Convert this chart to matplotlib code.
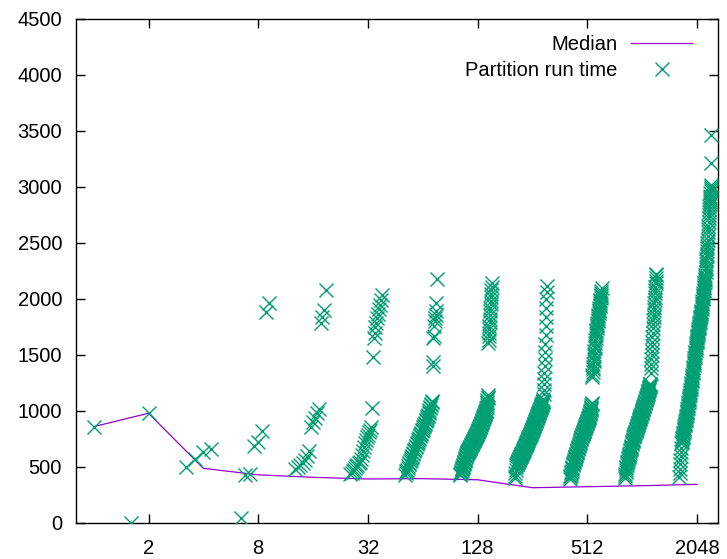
import matplotlib
matplotlib.use("Agg")
import matplotlib.pyplot as plt
from matplotlib.ticker import FixedLocator, FixedFormatter, NullLocator

plt.rcParams['font.family'] = ['Liberation Sans', 'DejaVu Sans']

# ---------------- data ----------------
partitions = [1, 2, 4, 8, 16, 32, 64, 128, 256, 512, 1024, 2048]
median_ms = [860, 980, 488, 430, 408, 393, 396, 386, 315, 324, 333, 345]

run_1 = [860]
run_2 = [0, 982]
run_4 = [500, 571, 634, 661]
run_8 = [42, 425, 440, 688, 723, 824, 1887, 1967]
run_16 = [480, 500, 520, 540, 565, 600, 640, 860, 900, 940, 985, 1020,
          1790, 1840, 1900, 2080]
run_32 = [440, 450, 462, 475, 490, 505, 518, 532, 545, 570, 607, 640, 679,
          710, 741, 765, 786, 810, 830, 857, 1027,
          1480, 1650, 1700, 1750, 1790, 1830, 1870, 1910, 1950, 1990, 2040]
run_64 = [428, 444, 461, 477, 494, 510, 527, 540, 552, 565,
          577, 589, 602, 614, 627, 639, 651, 664, 676, 688,
          701, 713, 726, 738, 750, 763, 775, 786, 797, 808,
          819, 831, 842, 853, 864, 875, 886, 897, 908, 920,
          931, 942, 954, 968, 982, 995, 1009, 1023, 1037, 1051,
          1064, 1078, 1092,
          1400, 1440, 1650, 1670, 1760, 1800, 1830, 1860, 1890, 1960, 2180]
run_128 = [428, 436, 445, 453, 462, 470, 479, 487, 495, 504,
           512, 521, 529, 537, 546, 554, 563, 571, 580, 588,
           596, 605, 613, 622, 627, 631, 636, 641, 645, 650,
           655, 659, 664, 669, 673, 678, 682, 687, 692, 696,
           701, 706, 710, 715, 720, 724, 729, 733, 738, 743,
           747, 752, 757, 761, 766, 771, 775, 780, 784, 789,
           794, 798, 803, 808, 812, 817, 822, 826, 831, 836,
           842, 847, 853, 859, 864, 870, 875, 881, 887, 892,
           898, 903, 909, 915, 920, 926, 931, 937, 943, 948,
           954, 959, 965, 971, 976, 982, 987, 993, 999, 1004,
           1011, 1026, 1040, 1054, 1069, 1083, 1098, 1112, 1126, 1141,
           1603, 1635, 1667, 1698, 1730, 1762, 1794, 1825, 1857, 1889,
           1921, 1952, 1984, 2016, 2048, 2079, 2111, 2143]
run_256 = [400, 424, 448, 472, 496, 520, 525, 531, 536, 542,
           547, 553, 558, 564, 569, 575, 580, 586, 591, 596,
           602, 607, 613, 618, 624, 629, 635, 640, 646, 651,
           656, 662, 667, 673, 678, 684, 689, 695, 700, 706,
           711, 717, 722, 727, 733, 738, 744, 749, 755, 760,
           766, 771, 777, 782, 788, 793, 798, 804, 809, 815,
           820, 826, 831, 837, 842, 848, 853, 858, 864, 869,
           875, 880, 886, 891, 897, 902, 908, 913, 919, 924,
           929, 935, 940, 946, 951, 957, 962, 968, 973, 979,
           984, 990, 995, 1000, 1006, 1011, 1017, 1022, 1028, 1033,
           1039, 1044, 1050, 1055, 1061, 1066, 1071, 1077, 1082, 1088,
           1093,
           1110, 1150, 1190, 1240, 1290, 1340, 1400, 1460, 1530, 1600,
           1680, 1760, 1840, 1920, 2000, 2060, 2120]
run_512 = [397, 409, 421, 432, 444, 456, 468, 480, 491, 503,
           515, 527, 537, 545, 553, 561, 569, 577, 585, 593,
           601, 609, 617, 625, 634, 642, 650, 658, 666, 674,
           682, 690, 698, 706, 714, 722, 730, 738, 747, 755,
           763, 771, 777, 783, 789, 795, 801, 807, 813, 819,
           825, 831, 838, 844, 850, 856, 862, 868, 874, 880,
           886, 892, 898, 904, 910, 916, 922, 928, 934, 940,
           946, 955, 964, 974, 983, 993, 1002, 1012, 1021, 1031,
           1040, 1050, 1059, 1069,
           1300, 1324, 1347, 1371, 1395, 1418,
           1442, 1465, 1489, 1513, 1536, 1560, 1583, 1607, 1631, 1654,
           1678, 1697, 1712, 1727, 1742, 1757, 1771, 1786, 1801, 1816,
           1831, 1846, 1860, 1875, 1890, 1905, 1920, 1935, 1949, 1964,
           1979, 1994, 2009, 2024, 2038, 2053, 2068, 2098]
run_1024 = [400, 417, 435, 452, 469, 487, 504, 521, 536, 547,
            557, 567, 578, 588, 598, 609, 619, 629, 640, 650,
            660, 671, 681, 691, 702, 712, 722, 733, 743, 753,
            764, 773, 780, 787, 794, 801, 808, 814, 821, 828,
            835, 842, 849, 856, 863, 870, 876, 883, 890, 897,
            904, 911, 918, 925, 932, 938, 945, 952, 959, 966,
            973, 980, 987, 994, 1000, 1007, 1014, 1021, 1028, 1035,
            1042, 1049, 1056, 1063, 1070, 1077, 1084, 1091, 1098, 1105,
            1112, 1119, 1126, 1133, 1140, 1147, 1154, 1161, 1168, 1175,
            1182, 1189, 1196, 1203, 1210, 1217, 1224, 1231, 1238, 1245,
            1339, 1380, 1420, 1460, 1500, 1540, 1580, 1620, 1660, 1700,
            1740, 1780, 1810, 1840, 1870, 1900, 1930, 1960, 1990, 2020,
            2050, 2080, 2110, 2140, 2165, 2190, 2210, 2225]
run_2048 = [411, 449, 486, 524, 561, 599, 636, 674, 711, 723,
            734, 746, 758, 769, 781, 793, 804, 816, 828, 839,
            851, 863, 874, 886, 897, 909, 921, 932, 944, 956,
            967, 979, 990, 1002, 1014, 1028, 1041, 1054, 1067, 1081,
            1094, 1107, 1120, 1134, 1147, 1160, 1173, 1187, 1200, 1213,
            1226, 1240, 1253, 1266, 1279, 1293, 1306, 1321, 1336, 1351,
            1366, 1380, 1395, 1410, 1425, 1440, 1455, 1470, 1485, 1500,
            1515, 1530, 1544, 1559, 1574, 1589, 1604, 1615, 1626, 1638,
            1649, 1660, 1672, 1683, 1694, 1706, 1717, 1728, 1739, 1751,
            1762, 1773, 1785, 1796, 1807, 1818, 1830, 1841, 1852, 1864,
            1875, 1886, 1897, 1911, 1925, 1939, 1954, 1968, 1982, 1996,
            2011, 2025, 2039, 2054, 2068, 2082, 2096, 2111, 2125, 2139,
            2154, 2168, 2182, 2196, 2218, 2241, 2265, 2288, 2312, 2335,
            2359, 2382, 2406, 2429, 2453, 2476, 2500, 2531, 2563, 2594,
            2625, 2656, 2688, 2719, 2750, 2781, 2808, 2827, 2846, 2865,
            2885, 2904, 2923, 2942, 2962, 2981, 3000, 3015, 3215, 3465]

runs = [run_1, run_2, run_4, run_8, run_16, run_32, run_64, run_128,
        run_256, run_512, run_1024, run_2048]

x_ticks = [2, 8, 32, 128, 512, 2048]
x_tick_labels = ['2', '8', '32', '128', '512', '2048']
y_ticks = [0, 500, 1000, 1500, 2000, 2500, 3000, 3500, 4000, 4500]

# ---------------- layout ----------------
SPREAD_LO, SPREAD_W = 0.8, 0.4   # points of a group are spread by rank
LINE_COLOR = '#9400d3'
POINT_COLOR = '#009e73'

fig = plt.figure(figsize=(7.27, 5.59), dpi=100)
ax = fig.add_axes([76 / 727, 1 - 523 / 559, 641.5 / 727, 504 / 559])

ax.plot(partitions, median_ms, color=LINE_COLOR, lw=0.9, label='Median',
        zorder=2)

px, py = [], []
for n, vals in zip(partitions, runs):
    m = len(vals)
    for i, v in enumerate(sorted(vals)):
        px.append(n if m == 1 else n * (SPREAD_LO + SPREAD_W * i / m))
        py.append(v)
ax.plot(px, py, linestyle='none', marker='x', markersize=9.5,
        markeredgewidth=1.0, color=POINT_COLOR, label='Partition run time',
        zorder=3)

ax.set_xscale('log', base=2)
ax.set_xlim(0.8, 2650)
ax.set_ylim(0, 4500)
ax.xaxis.set_major_locator(FixedLocator(x_ticks))
ax.xaxis.set_major_formatter(FixedFormatter(x_tick_labels))
ax.xaxis.set_minor_locator(NullLocator())
ax.set_yticks(y_ticks)
ax.set_yticklabels([str(v) for v in y_ticks])

ax.tick_params(axis='both', which='major', direction='in', length=6.5,
               width=1, top=True, right=True, labelsize=14.5, colors='black')
ax.tick_params(axis='y', pad=10)
ax.tick_params(axis='x', pad=11.5)
for sp in ax.spines.values():
    sp.set_linewidth(1.0)
    sp.set_color('black')

leg = ax.legend(loc='upper right', bbox_to_anchor=(0.960, 0.968),
                frameon=False, markerfirst=False, fontsize=14.5,
                handlelength=3.0, handletextpad=0.7, labelspacing=0.33,
                borderaxespad=0, borderpad=0)
for col in leg._legend_handle_box.get_children():
    col.align = 'right'

fig.savefig('out.png', dpi=100)
